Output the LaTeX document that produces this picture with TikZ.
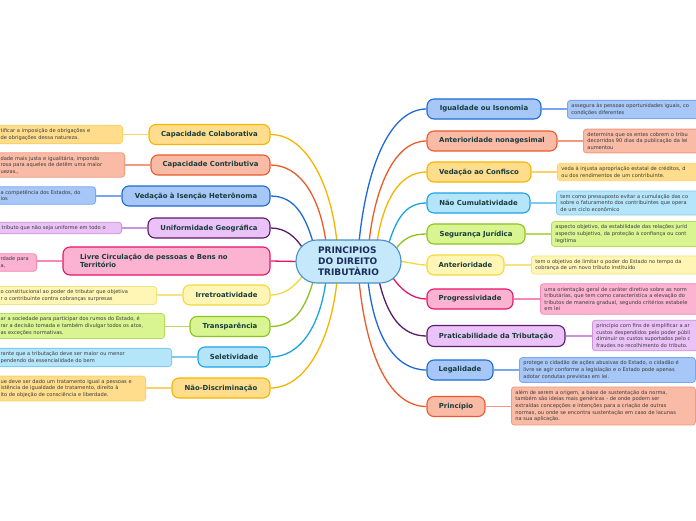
\documentclass[tikz,border=0pt]{standalone}
\usepackage{fontspec}
\setmainfont{DejaVu Sans}
\usetikzlibrary{backgrounds}
\definecolor{yelF}{HTML}{FFDD8C}\definecolor{yelB}{HTML}{F7B500}\definecolor{yelL}{HTML}{F9D36A}
\definecolor{salF}{HTML}{F9BBA6}\definecolor{salB}{HTML}{EC5A2C}\definecolor{salL}{HTML}{F39A7E}
\definecolor{bluF}{HTML}{A6C7F7}\definecolor{bluB}{HTML}{1E6BD5}\definecolor{bluL}{HTML}{79A6EE}
\definecolor{purF}{HTML}{EBC2F7}\definecolor{purB}{HTML}{5B1A6A}\definecolor{purL}{HTML}{C994DB}
\definecolor{pnkF}{HTML}{FCB2D1}\definecolor{pnkB}{HTML}{E5156B}\definecolor{pnkL}{HTML}{F58AB5}
\definecolor{lyeF}{HTML}{FFF6B5}\definecolor{lyeB}{HTML}{F1D93F}\definecolor{lyeL}{HTML}{F5E37E}
\definecolor{limF}{HTML}{D8F591}\definecolor{limB}{HTML}{8DC21F}\definecolor{limL}{HTML}{B6DC59}
\definecolor{cyaF}{HTML}{B5E5FB}\definecolor{cyaB}{HTML}{1BA4E4}\definecolor{cyaL}{HTML}{7FCBF0}
\definecolor{cenF}{HTML}{C5E9FA}\definecolor{cenB}{HTML}{4A90C8}
\definecolor{maintext}{HTML}{173B3B}
\definecolor{centext}{HTML}{1B2D5B}
\definecolor{leaftext}{HTML}{3A3A3A}
\newcommand{\mainf}{\fontsize{6.9}{8.2}\selectfont\bfseries}
\newcommand{\cenf}{\fontsize{9}{11}\selectfont\bfseries}
\newcommand{\leaff}{\fontsize{5.1}{6.6}\selectfont}
\tikzset{
  mainbox/.style={draw, rounded corners=7pt, line width=1.1pt, font=\mainf, text=maintext, inner sep=0pt, minimum height=20pt},
  leafbox/.style={draw, rounded corners=3pt, line width=0.8pt, font=\leaff, text=leaftext, align=left, inner xsep=4pt, inner ysep=3.3pt},
  yel/.style={fill=yelF, draw=yelB}, yell/.style={fill=yelF, draw=yelL},
  sal/.style={fill=salF, draw=salB}, sall/.style={fill=salF, draw=salL},
  blu/.style={fill=bluF, draw=bluB}, blul/.style={fill=bluF, draw=bluL},
  pur/.style={fill=purF, draw=purB}, purl/.style={fill=purF, draw=purL},
  pnk/.style={fill=pnkF, draw=pnkB}, pnkl/.style={fill=pnkF, draw=pnkL},
  lye/.style={fill=lyeF, draw=lyeB}, lyel/.style={fill=lyeF, draw=lyeL},
  lim/.style={fill=limF, draw=limB}, liml/.style={fill=limF, draw=limL},
  cya/.style={fill=cyaF, draw=cyaB}, cyal/.style={fill=cyaF, draw=cyaL},
  conn/.style={line width=1.3pt},
  lconn/.style={line width=1.2pt},
}
\begin{document}
\begin{tikzpicture}[x=1pt,y=-1pt]
\useasboundingbox (0,0) rectangle (696,520);
\clip (0,0) rectangle (696,520);

% center
\node[draw=cenB, fill=cenF, line width=1.1pt, rounded corners=21pt, minimum width=105pt, minimum height=43pt, inner sep=0pt, align=left, font=\cenf, text=centext] (c) at (348.5,261.5) {PRINCIPIOS\\DO DIREITO\\TRIBUTÀRIO};

% left main nodes
\node[mainbox, yel, minimum width=121pt] (l1) at (209.5,134.5) {Capacidade Colaborativa};
\node[mainbox, sal, minimum width=119pt] (l2) at (210.5,165) {Capacidade Contributiva};
\node[mainbox, blu, minimum width=148pt] (l3) at (196,196) {Vedação à Isenção Heterônoma};
\node[mainbox, pur, minimum width=122pt] (l4) at (209,228) {Uniformidade Geográfica};
\node[mainbox, pnk, minimum width=207pt, minimum height=28pt, align=left, text width=173pt, inner xsep=17pt] (l5) at (166.5,261) {Livre Circulação de pessoas e Bens no\\Território};
\node[mainbox, lye, minimum width=87pt] (l6) at (226.5,295) {Irretroatividade};
\node[mainbox, lim, minimum width=80pt] (l7) at (230,326.5) {Transparência};
\node[mainbox, cya, minimum width=72pt] (l8) at (234,357) {Seletividade};
\node[mainbox, yel, minimum width=98pt] (l9) at (221,388) {Não-Discriminação};

% right main nodes
\node[mainbox, blu, minimum width=114pt] (r1) at (484,109) {Igualdade ou Isonomia};
\node[mainbox, sal, minimum width=130pt] (r2) at (492,141) {Anterioridade nonagesimal};
\node[mainbox, yel, minimum width=104pt] (r3) at (479,172) {Vedação ao Confisco};
\node[mainbox, cya, minimum width=103pt] (r4) at (478.5,203) {Não Cumulatividade};
\node[mainbox, lim, minimum width=98pt] (r5) at (476,234) {Segurança Jurídica};
\node[mainbox, lye, minimum width=77pt] (r6) at (465.5,265) {Anterioridade};
\node[mainbox, pnk, minimum width=86pt] (r7) at (470,299) {Progressividade};
\node[mainbox, pur, minimum width=138pt, minimum height=21pt] (r8) at (496,336) {Praticabilidade da Tributação};
\node[mainbox, blu, minimum width=66pt] (r9) at (460,370) {Legalidade};
\node[mainbox, sal, minimum width=58pt] (r10) at (456,406.5) {Princípio};

% left leaves
\node[leafbox, yell, anchor=east, text width=118pt] (ll1) at (123,134.5) {tificar a imposição de obrigações e\\de obrigações dessa natureza.};
\node[leafbox, sall, anchor=east, text width=120pt] (ll2) at (125,165) {dade mais justa e igualitária, impondo\\rosa para aqueles de detêm uma maior\\uezas.,};
\node[leafbox, blul, anchor=east, text width=91pt] (ll3) at (96,195.5) {a competência dos Estados, do\\ios};
\node[leafbox, purl, anchor=east, text width=116pt] (ll4) at (122,228) {tributo que não seja uniforme em todo o};
\node[leafbox, pnkl, anchor=east, text width=32pt] (ll5) at (37,262.5) {rdade para\\a,};
\node[leafbox, lyel, anchor=east, text width=152pt] (ll6) at (157,295.5) {o constitucional ao poder de tributar que objetiva\\r o contribuinte contra cobranças surpresas};
\node[leafbox, liml, anchor=east, text width=160pt] (ll7) at (165,326) {ar a sociedade para participar dos rumos do Estado, é\\rar a decisão tomada e também divulgar todos os atos,\\ as exceções normativas.};
\node[leafbox, cyal, anchor=east, text width=167pt] (ll8) at (172,357.5) {rante que a tributação deve ser maior ou menor\\pendendo da essencialidade do bem};
\node[leafbox, yell, anchor=east, text width=141pt] (ll9) at (146,388.5) {ue deve ser dado um tratamento igual a pessoas e\\istência de igualdade de tratamento, direito à\\ito de objeção de consciência e liberdade.};

% right leaves
\node[leafbox, blul, anchor=west, text width=220pt] (rl1) at (567,109.5) {assegura às pessoas oportunidades iguais, co\\condições diferentes};
\node[leafbox, sall, anchor=west, text width=220pt] (rl2) at (583,141) {determina que os entes cobrem o tribu\\decorridos 90 dias da publicação da lei\\aumentou};
\node[leafbox, yell, anchor=west, text width=220pt] (rl3) at (557,172) {veda à injusta apropriação estatal de créditos, d\\ou dos rendimentos de um contribuinte.};
\node[leafbox, cyal, anchor=west, text width=220pt] (rl4) at (556,203) {tem como pressuposto evitar a cumulação das co\\sobre o faturamento dos contribuintes que opera\\de um ciclo econômico};
\node[leafbox, liml, anchor=west, text width=220pt] (rl5) at (551,234) {aspecto objetivo, da estabilidade das relações juríd\\aspecto subjetivo, da proteção à confiança ou cont\\legítima};
\node[leafbox, lyel, anchor=west, text width=220pt] (rl6) at (531,265) {tem o objetivo de limitar o poder do Estado no tempo da\\cobrança de um novo tributo instituído};
\node[leafbox, pnkl, anchor=west, text width=220pt] (rl7) at (540,299) {uma orientação geral de caráter diretivo sobre as norm\\tributárias, que tem como característica a elevação do\\tributos de maneira gradual, segundo critérios estabele\\em lei};
\node[leafbox, purl, anchor=west, text width=220pt] (rl8) at (592,335.5) {princípio com fins de simplificar a ar\\custos despendidos pelo poder públi\\diminuir os custos suportados pelo c\\fraudes no recolhimento do tributo.};
\node[leafbox, blul, anchor=west, text width=168pt] (rl9) at (519,370) {\mbox{protege o cidadão de ações abusivas do Estado, o cidadão é}\\\mbox{livre se agir conforme a legislação e o Estado pode apenas}\\adotar condutas previstas em lei.};
\node[leafbox, sall, anchor=west, text width=176pt] (rl10) at (511,406) {\mbox{além de serem a origem, a base de sustentação da norma,}\\\mbox{também são ideias mais genéricas - de onde podem ser}\\\mbox{extraídas concepções e intenções para a criação de outras}\\\mbox{normas, ou onde se encontra sustentação em caso de lacunas}\\na sua aplicação.};

\begin{scope}[on background layer]
\fill[white] (0,0) rectangle (696,520);
% main connectors left
\draw[conn, yelB] ([xshift=-11.5pt,yshift=-3pt]c.north) .. controls +(-6,-60) and +(35,0) .. (l1.east);
\draw[conn, salB] ([xshift=-22.5pt,yshift=-3pt]c.north) .. controls +(-6,-45) and +(30,0) .. (l2.east);
\draw[conn, bluB] ([xshift=-34.5pt,yshift=-6pt]c.north) .. controls +(-8,-28) and +(25,0) .. (l3.east);
\draw[conn, purB] ([xshift=-45.5pt,yshift=-9pt]c.north) .. controls +(-8,-12) and +(15,0) .. (l4.east);
\draw[conn, pnkB] ([xshift=3pt]c.west) -- (l5.east);
\draw[conn, lyeB] ([xshift=-45.5pt,yshift=8pt]c.south) .. controls +(-8,10) and +(15,0) .. (l6.east);
\draw[conn, limB] ([xshift=-34.5pt,yshift=5pt]c.south) .. controls +(-8,28) and +(25,0) .. (l7.east);
\draw[conn, cyaB] ([xshift=-22.5pt,yshift=3pt]c.south) .. controls +(-6,45) and +(30,0) .. (l8.east);
\draw[conn, yelB] ([xshift=-11.5pt,yshift=3pt]c.south) .. controls +(-6,60) and +(35,0) .. (l9.east);
% main connectors right
\draw[conn, bluB] ([xshift=10.5pt,yshift=-3pt]c.north) .. controls +(8,-80) and +(-35,0) .. (r1.west);
\draw[conn, salB] ([xshift=20.5pt,yshift=-3pt]c.north) .. controls +(6,-55) and +(-32,0) .. (r2.west);
\draw[conn, yelB] ([xshift=28.5pt,yshift=-3pt]c.north) .. controls +(6,-40) and +(-28,0) .. (r3.west);
\draw[conn, cyaB] ([xshift=39.5pt,yshift=-6pt]c.north) .. controls +(8,-25) and +(-22,0) .. (r4.west);
\draw[conn, limB] ([xshift=47.5pt,yshift=-9pt]c.north) .. controls +(8,-10) and +(-15,0) .. (r5.west);
\draw[conn, lyeB] ([xshift=-3pt]c.east) .. controls +(10,0) and +(-10,0) .. (r6.west);
\draw[conn, pnkB] ([xshift=43.5pt,yshift=7pt]c.south) .. controls +(8,12) and +(-15,0) .. (r7.west);
\draw[conn, purB] ([xshift=30.5pt,yshift=3pt]c.south) .. controls +(8,35) and +(-25,0) .. (r8.west);
\draw[conn, bluB] ([xshift=19.5pt,yshift=3pt]c.south) .. controls +(6,55) and +(-32,0) .. (r9.west);
\draw[conn, salB] ([xshift=10.5pt,yshift=3pt]c.south) .. controls +(8,80) and +(-35,0) .. (r10.west);
% leaf connectors
\draw[lconn, yelL] (l1.west) -- (l1.west -| ll1.east);
\draw[lconn, salL] (l2.west) -- (l2.west -| ll2.east);
\draw[lconn, bluL] (l3.west) -- (l3.west -| ll3.east);
\draw[lconn, purL] (l4.west) -- (l4.west -| ll4.east);
\draw[lconn, pnkL] (l5.west) -- (l5.west -| ll5.east);
\draw[lconn, lyeL] (l6.west) -- (l6.west -| ll6.east);
\draw[lconn, limL] (l7.west) -- (l7.west -| ll7.east);
\draw[lconn, cyaL] (l8.west) -- (l8.west -| ll8.east);
\draw[lconn, yelL] (l9.west) -- (l9.west -| ll9.east);
\draw[lconn, bluL] (r1.east) -- (r1.east -| rl1.west);
\draw[lconn, salL] (r2.east) -- (r2.east -| rl2.west);
\draw[lconn, yelL] (r3.east) -- (r3.east -| rl3.west);
\draw[lconn, cyaL] (r4.east) -- (r4.east -| rl4.west);
\draw[lconn, limL] (r5.east) -- (r5.east -| rl5.west);
\draw[lconn, lyeL] (r6.east) -- (r6.east -| rl6.west);
\draw[lconn, pnkL] (r7.east) -- (r7.east -| rl7.west);
\draw[lconn, purL] (r8.east) -- (r8.east -| rl8.west);
\draw[lconn, bluL] (r9.east) -- (r9.east -| rl9.west);
\draw[lconn, salL] (r10.east) -- (r10.east -| rl10.west);
\end{scope}
\end{tikzpicture}
\end{document}
